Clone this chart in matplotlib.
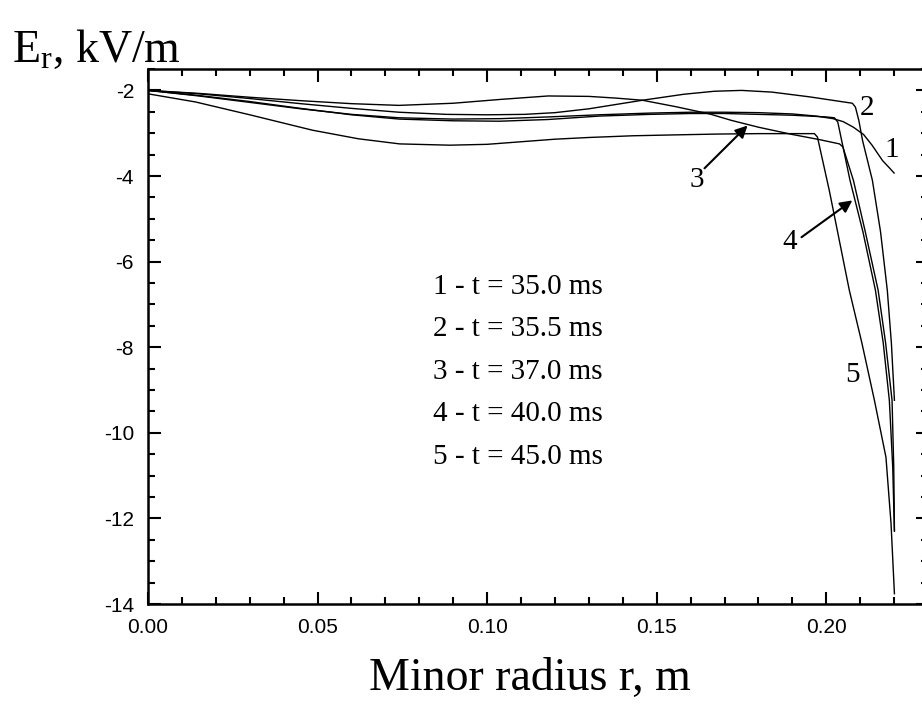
import numpy as np
import matplotlib
matplotlib.use("Agg")
from matplotlib import pyplot as plt
from matplotlib.ticker import MultipleLocator, FormatStrFormatter

# radial profiles of the radial electric field, r in m, E_r in kV/m
r1 = [0.0, 0.015, 0.03, 0.045, 0.06, 0.074, 0.09, 0.104, 0.118, 0.133, 0.148, 0.16, 0.17, 0.18,
      0.19, 0.197, 0.202, 0.205, 0.208, 0.211, 0.2135, 0.2166, 0.2185, 0.22]
e1 = [-2.0, -2.13, -2.28, -2.43, -2.56, -2.64, -2.67, -2.66, -2.62, -2.57, -2.53, -2.51, -2.51, -2.52,
      -2.55, -2.6, -2.66, -2.73, -2.86, -3.03, -3.28, -3.64, -3.8, -3.93]

r2 = [0.0, 0.015, 0.03, 0.045, 0.06, 0.074, 0.088, 0.1, 0.111, 0.12, 0.13, 0.1458, 0.158, 0.167,
      0.175, 0.184, 0.195, 0.2077, 0.2086, 0.2096, 0.2107, 0.2136, 0.216, 0.218, 0.2192, 0.2201]
e2 = [-2.0, -2.08, -2.19, -2.31, -2.42, -2.51, -2.56, -2.57, -2.56, -2.52, -2.43, -2.23, -2.09, -2.02,
      -2.0, -2.04, -2.15, -2.3, -2.39, -2.7, -3.17, -4.1, -5.3, -6.67, -7.9, -9.24]

r3 = [0.0, 0.015, 0.03, 0.045, 0.06, 0.074, 0.09, 0.104, 0.118, 0.13, 0.138, 0.1458, 0.1556, 0.1656,
      0.172, 0.18, 0.19, 0.198, 0.2039, 0.2049, 0.208, 0.2115, 0.2153, 0.2175, 0.2194, 0.2199, 0.2201]
e3 = [-2.0, -2.07, -2.16, -2.24, -2.31, -2.35, -2.3, -2.21, -2.13, -2.14, -2.18, -2.23, -2.38, -2.55,
      -2.7, -2.86, -3.03, -3.15, -3.25, -3.32, -4.1, -5.3, -6.67, -7.9, -9.24, -10.8, -12.28]

r4 = [0.0, 0.015, 0.03, 0.045, 0.06, 0.074, 0.09, 0.1037, 0.118, 0.133, 0.148, 0.16, 0.17, 0.18,
      0.19, 0.2, 0.2024, 0.2034, 0.207, 0.2108, 0.2145, 0.2168, 0.2186, 0.2196, 0.2201]
e4 = [-2.0, -2.12, -2.26, -2.42, -2.57, -2.67, -2.71, -2.72, -2.68, -2.6, -2.56, -2.54, -2.54, -2.56,
      -2.58, -2.62, -2.64, -2.74, -4.1, -5.3, -6.67, -7.9, -9.24, -10.8, -12.3]

r5 = [0.0, 0.014, 0.03, 0.0485, 0.062, 0.0742, 0.089, 0.1, 0.11, 0.12, 0.13, 0.143, 0.155, 0.168,
      0.18, 0.19, 0.1965, 0.1974, 0.2009, 0.2068, 0.2105, 0.2142, 0.2176, 0.2191, 0.2201]
e5 = [-2.08, -2.27, -2.57, -2.93, -3.13, -3.25, -3.28, -3.26, -3.2, -3.14, -3.1, -3.06, -3.04, -3.02,
      -3.01, -3.01, -3.01, -3.09, -4.34, -6.67, -7.9, -9.24, -10.57, -12.12, -13.76]

curves = [(r1, e1), (r2, e2), (r3, e3), (r4, e4), (r5, e5)]
times = ["35.0", "35.5", "37.0", "40.0", "45.0"]

# curve number labels placed next to the profile edges
label_pos = [(0.2192, -3.40), (0.2121, -2.42), (0.1618, -4.10), (0.1892, -5.55), (0.2077, -8.64)]

plt.rcParams["mathtext.fontset"] = "custom"
plt.rcParams["mathtext.rm"] = "Liberation Serif"
plt.rcParams["mathtext.it"] = "Liberation Serif"

fig = plt.figure(figsize=(9.22, 7.04), dpi=100)
ax = fig.add_axes([148 / 922, 1 - 604 / 704, 780 / 922, 535 / 704])

for r, e in curves:
    ax.plot(r, e, color="black", lw=1.0)

ax.set_xlim(0, 0.23)
ax.set_ylim(-14, -1.5)
ax.xaxis.set_major_locator(MultipleLocator(0.05))
ax.xaxis.set_minor_locator(MultipleLocator(0.01))
ax.yaxis.set_major_locator(MultipleLocator(2))
ax.yaxis.set_minor_locator(MultipleLocator(0.5))
ax.xaxis.set_major_formatter(FormatStrFormatter("%.2f"))
ax.yaxis.set_major_formatter(FormatStrFormatter("%d"))

for side in ax.spines.values():
    side.set_linewidth(1.8)
ax.tick_params(which="both", direction="in", top=True, right=True, width=1.5,
               labelfontfamily="Liberation Sans", labelsize=15)
ax.tick_params(which="major", length=9)
ax.tick_params(which="minor", length=5)
ax.tick_params(axis="x", pad=10)
ax.tick_params(axis="y", pad=10)

fig.text(12 / 922, 1 - 62 / 704, r"E$_{\mathrm{r}}$, kV/m", family="Liberation Serif", fontsize=33)
fig.text(530 / 922, 1 - 690 / 704, "Minor radius r, m", family="Liberation Serif",
         fontsize=33, ha="center")

# legend block with the time of each profile
for i, t in enumerate(times):
    ax.text(0.3654, 0.5925 - i * 0.0794, f"{i + 1} - t = {t} ms", transform=ax.transAxes,
            family="Liberation Serif", fontsize=21, va="center", ha="left")

for i, (x, y) in enumerate(label_pos):
    ax.text(x, y, str(i + 1), family="Liberation Serif", fontsize=21, ha="center", va="center")

arrow = dict(arrowstyle="-|>", color="black", lw=1.5, mutation_scale=18, shrinkA=0, shrinkB=0)
ax.annotate("", xy=(0.1768, -2.82), xytext=(0.1641, -3.82), arrowprops=arrow)
ax.annotate("", xy=(0.2077, -4.57), xytext=(0.1927, -5.43), arrowprops=arrow)

fig.savefig("out.png", dpi=100)
